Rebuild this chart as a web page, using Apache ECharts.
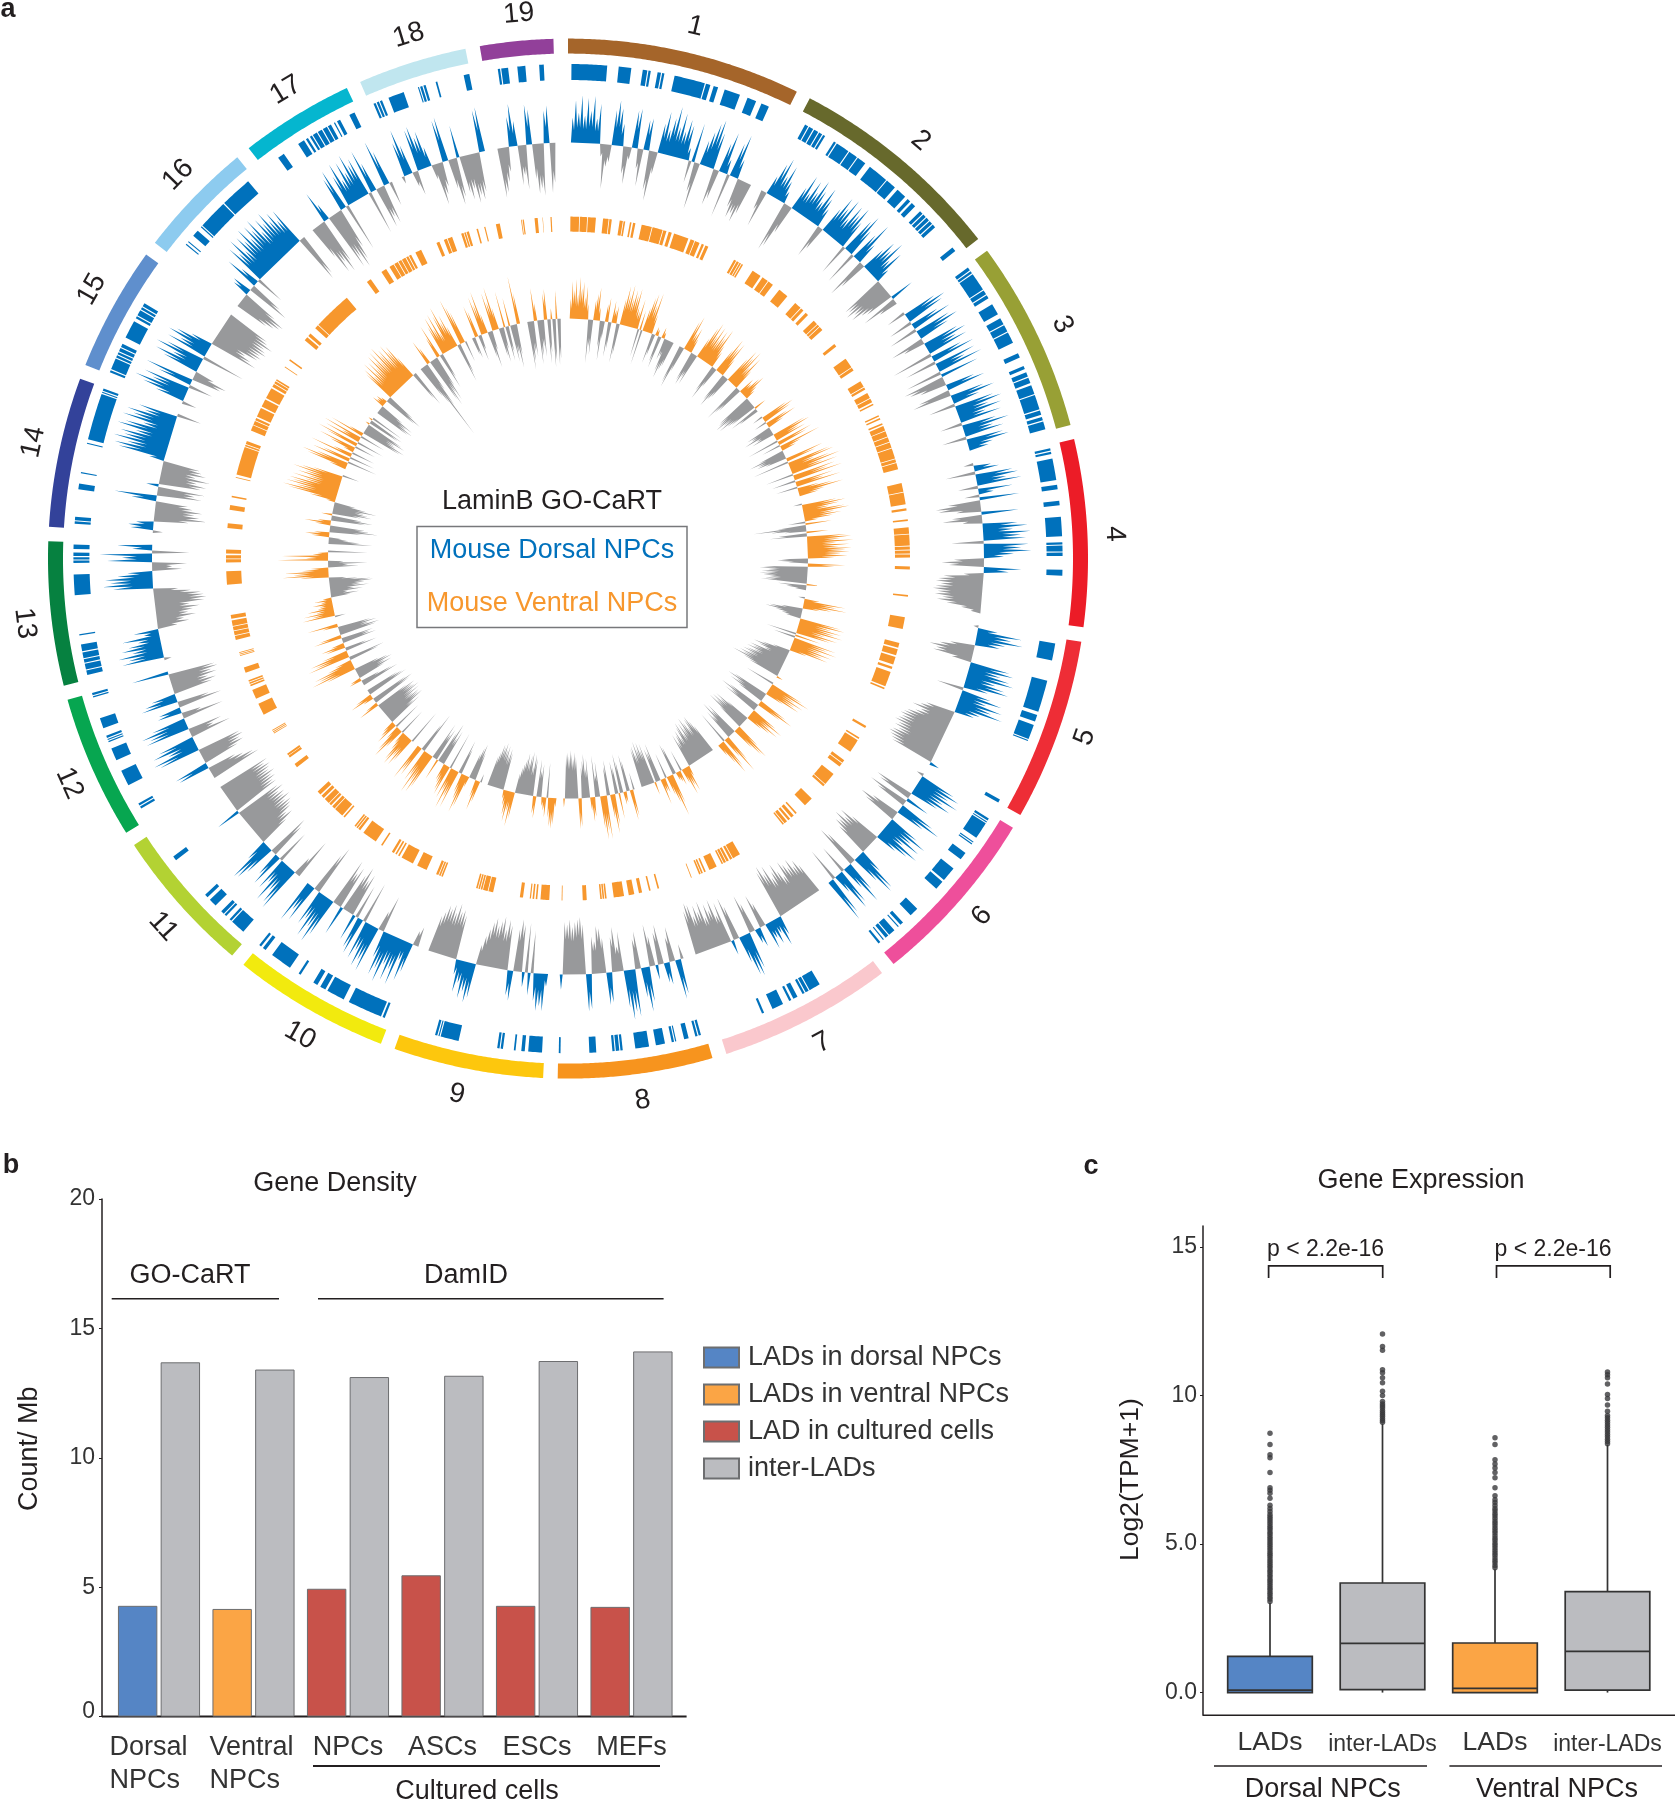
<!DOCTYPE html>
<html>
<head>
<meta charset="utf-8">
<title>LaminB GO-CaRT</title>
<script src="https://cdn.jsdelivr.net/npm/echarts@6/dist/echarts.min.js"></script>
<style>
    html, body { margin: 0; padding: 0; background: #fff; }
    #chart { width: 1675px; height: 1800px; }
</style>
</head>
<body>
<div id="chart"></div>
<script>
    // ---- panel a: mouse chromosomes, sizes in Mb
    const chromNames = ['1','2','3','4','5','6','7','8','9','10','11','12','13','14','15','16','17','18','19'];
    const chromLengths = [195,182,160,156,152,150,145,129,125,131,122,120,120,125,104,98,95,91,61];
    const chromColors = ['#a5652a','#67692c','#98a035','#ec1c27','#ee2d36','#ee4f9b','#fac8cd','#f7941e','#fdc70d','#f2ea0e','#b3d233','#07a650','#068140','#33429a','#5f8fcd','#8dcbef','#05b6cf','#c0e6ef','#92409a'];

    // LAD blocks per chromosome, start/end in Mb
    const dorsalBlocks = [
        [[3,34],[44,55],[65,69],[70,72],[78,81],[82,84],[93,120],[121,125],[128,132],[138,152],[159,167],[172,179]],
        [[7,10],[11,15],[16,20],[21,24],[25,27],[36,38],[39,51],[52,60],[61,69],[74,92],[93,102],[105,114],[117,120],[122,126],[132,135],[136,139],[140,143],[144,147],[148,151],[174,178]],
        [[2,5],[6,8],[9,25],[26,30],[31,34],[40,50],[54,60],[61,67],[68,78],[88,92],[100,103],[106,110],[111,116],[118,126],[127,140],[141,145],[147,150],[151,158]],
        [[3,5],[6,8],[12,31],[35,39],[49,53],[63,80],[85,87],[88,93],[94,97],[109,114]],
        [[5,20],[38,66],[69,75],[78,91],[92,93],[149,152]],
        [[4,6],[7,8],[9,24],[28,29],[30,31],[40,47],[57,70],[72,80],[104,112],[121,124],[126,127],[131,137],[138,141],[143,144],[147,149]],
        [[49,59],[60,63],[64,66],[71,75],[77,79],[85,95],[103,105]],
        [[4,6],[7,9],[15,19],[26,27],[28,30],[36,44],[50,62],[73,75],[76,79],[80,82],[96,102],[127,128.5]],
        [[2,14],[17,20],[25,26.5],[36,38],[39,41],[75,91],[92,93],[94,96]],
        [[5,7],[8.5,39],[44,60],[62,67],[70,74],[87,89],[98,117],[124,127],[129,131]],
        [[6,19],[20,22],[26,28],[29,32],[39,46],[49,52],[91,95]],
        [[11,13],[14,16],[34,48],[58,69],[75,76],[77,78],[79,81],[88,97],[116,117],[118,120]],
        [[4,8],[9,14],[15,18],[19,24],[25,31],[39,40],[74,92],[102,104],[105,107],[108,111],[114,118]],
        [[4,6],[7,10],[34,39],[48,49],[74,75],[78,119],[120,121],[122,124]],
        [[2,4],[5,15],[16,18],[19,21],[22,25],[26,29],[35,51],[54,56],[57,62],[63,65],[66,69]],
        [[15,16],[18,19],[25,31],[35,36],[37,63],[64,92]],
        [[15,21],[36,42],[44,46],[48,50],[51,55],[56,60],[61,65],[66,69],[72,73],[75,78],[87,92]],
        [[3,5],[6,8],[9,11],[17,31],[44,45],[46,48],[49,51],[60,61.5],[85,90]],
        [[12,14],[15,21],[29,36],[48,52]]
    ];
    const ventralBlocks = [
        [[3,14],[15,24],[25,35],[44,51],[52,55],[65,69],[70,72],[78,80],[82,85],[93,106],[107,120],[121,125],[128,132],[135,154],[157,162],[163,169],[172,175],[177,181]],
        [[10,13],[14,17],[18,20],[21,23],[37,49],[52,60],[61,68],[78,91],[104,113],[114,118],[122,126],[136,142],[143,146],[147,152],[175,179]],
        [[4,17],[18,22],[38,46],[47,50],[55,62],[63,68],[70,72],[86,88],[90,92],[97,99],[101,107],[108,115],[116,122],[123,130],[131,144],[145,149],[150,158]],
        [[4,15],[16,31],[36,39],[50,52],[60,68],[69,83],[84,88],[89,93],[94,98],[109,113],[145,147]],
        [[5,20],[38,44],[46,54],[56,66],[69,72],[76,95],[97,99],[150,153]],
        [[3,5],[7,24],[37,41],[42,47],[59,75],[76,79],[100,112],[126,128],[131,135],[137,140],[142,146],[147,149]],
        [[52,62],[63,66],[68,71],[72,75],[76,78],[85,95],[100,102],[104,106],[107,109],[119,120]],
        [[5,7],[16,18],[27,31],[37,44],[50,63],[72,74],[75,77],[78,80],[97,102],[127.5,128.5]],
        [[3,14],[18,20],[22,24],[26,27.5],[36,40],[74,80],[81,87],[88,90],[91,93],[94,96]],
        [[3,5],[6,8],[9,12],[25,38],[44,60],[63,65],[67,69],[71,74],[88,90],[98,117],[122,125],[126,128],[129,131]],
        [[4,6],[8,20],[21,25],[27,30],[31,38],[40,44],[46,51],[91,96],[106,109],[109.5,112]],
        [[8,9],[10,11],[12,13],[35,50],[57,69],[74,76],[77,79],[80,82],[92,99],[114,115],[116,117],[118,119]],
        [[3,8],[9,14],[15,20],[21,28],[30,35],[73,90],[101,105],[106,110],[112,117]],
        [[12,18],[35,41],[51,53],[76,77],[80,116],[117,119],[120,124]],
        [[1,8],[9,14],[15,18],[20,32],[34,44],[46,60],[62,66],[67,70],[71,73],[91,92],[101,103]],
        [[17,22],[24,28],[37,42],[43,92]],
        [[14,20],[36,43],[48,54],[55,60],[61,65],[66,71],[72,75],[76,79],[85,93]],
        [[7,11],[17,21],[22,28],[40,43],[44,46],[47,50],[60,62],[70,71.5],[85,90]],
        [[14,15],[16,17.5],[31,35],[41,41.5],[51,52.5]]
    ];

    // LaminB signal per chromosome, one value per 3 Mb bin; positive = LAD, negative = inter-LAD
    const binMb = 3;
    const dorsalSignal = [
        [0,10,17,12,19,11,18,13,19,10,16,-5,-18,-9,-7,14,18,15,9,-11,-15,-5,15,16,-8,-15,12,13,-16,-20,-9,12,17,10,15,20,12,18,11,16,14,5,-9,16,-12,-19,10,14,18,20,15,-15,-12,12,17,6,-18,14,18,8,-12,-16,-14,-17,-13],
        [-8,-15,8,14,17,10,15,9,5,-21,-19,-12,10,16,9,15,11,17,13,9,16,12,8,-14,-10,11,17,13,18,10,17,14,18,12,-13,15,18,12,-14,12,18,9,-17,-12,10,15,12,17,9,14,6,-18,-17,-19,-16,-18,-14,-12,10,-15,-8],
        [-8,14,18,16,-10,12,17,-12,15,18,13,-14,-9,15,18,13,17,-17,13,18,-13,17,12,19,-15,16,-17,-15,-11,12,16,-13,-16,14,18,11,-11,16,19,13,18,11,17,-9,14,19,12,16,-10,15,17,10,8],
        [-4,7,10,-12,15,17,12,18,-8,14,6,-6,16,-13,-18,-17,-10,15,-12,-16,-8,14,18,12,19,15,17,-13,18,15,19,12,8,-12,-17,-14,15,10,-8,-16,-18,-19,-17,-19,-20,-18,-19,-16,-18,-14,-8,-4],
        [-2,8,18,14,19,12,10,-10,-14,-18,-15,-16,-8,16,18,13,17,19,12,16,18,10,-11,12,17,11,18,14,19,10,8,-12,-14,-17,-13,-15,-18,-19,-20,-19,-20,-21,-19,-20,-18,-20,-21,-20,-19,-18,4],
        [-3,15,18,14,19,13,17,12,-16,-14,10,-17,-13,15,19,12,-12,-17,-14,13,18,12,17,10,18,14,9,-13,-18,-15,-19,-16,-17,-14,10,18,19,12,-15,-18,13,18,10,-12,15,17,8,-14,16,19],
        [-13,-16,-14,-18,-15,-17,-19,-13,-16,-20,-17,-15,-21,-18,-22,-20,8,12,6,10,7,11,-10,-14,8,6,-12,-16,15,18,17,11,-14,-18,6,-17,-12,-19,-15,-18,-13,-20,-16,-19,-15,-20,-21,-18],
        [-6,14,16,-14,-10,9,8,-16,-13,6,-12,-17,14,18,12,-15,-12,19,17,20,15,-16,-10,-18,-14,12,13,-14,-18,-19,-13,-15,14,15,-20,-23,-22,-21,-19,-22,-20,-21,6],
        [5,15,13,15,11,-17,9,-20,6,-19,-21,-17,12,10,-18,-20,-16,-21,-19,-17,-20,-18,-15,-12,-8,14,16,12,15,9,13,6,-18,-20,-19,-22,-18,-21,-19,-20,-17,-15],
        [-8,-6,12,16,8,19,13,18,12,20,15,18,11,-15,-8,19,15,18,12,16,-17,15,13,-14,11,-18,-15,-20,-16,12,-18,-15,-20,16,20,14,19,12,15,-21,-17,16,12,18],
        [-17,-8,19,17,12,18,10,14,-14,14,10,-15,-18,13,17,18,9,-13,-17,-15,-18,-19,-20,-18,-21,-19,-20,-18,-21,-19,10,-20,-19,-21,-20,-22,-20,-21,-22,-20,-22],
        [-21,-19,-15,-12,13,14,-15,-18,-17,-19,-18,17,19,12,18,15,-17,-10,-14,18,16,19,14,-17,-8,10,9,-18,-13,15,13,10,-16,-18,-15,-19,-17,-20,-19,15],
        [-3,17,14,18,12,16,13,9,15,6,10,-8,-13,-11,-16,-13,-15,-18,-14,-20,-21,-20,-19,-15,-10,16,20,17,19,14,10,-12,-8,-14,18,12,21,-15,8,14],
        [-4,9,10,7,-14,-21,-18,-16,-19,-15,-13,10,17,-18,-15,-19,5,-17,-19,-15,-20,-14,-18,-16,-15,6,19,21,16,22,18,20,14,22,19,12,21,17,20,13,16,-10],
        [-6,12,18,22,15,19,-10,14,20,-12,-14,-8,15,19,12,20,16,-18,17,12,18,15,9,-20,-17,-14,-19,-20,-19,-21,-20,-19,-22,-19,-18],
        [-14,-17,-19,-20,-15,7,8,-18,-14,14,8,-12,17,13,19,12,18,15,20,14,19,16,20,13,18,15,19,14,17,12,16,-20,-18],
        [-14,-22,-18,-23,-19,13,7,-24,-20,-25,-22,-17,14,17,-20,13,18,10,17,12,19,14,16,-18,18,12,-17,-13,-16,19,14,-10],
        [-3,14,19,12,-6,-10,17,18,13,15,8,-6,-17,-13,-10,17,18,-12,-19,-16,13,-15,-18,-14,-20,-17,-19,-16,17,18],
        [-20,-18,-14,-10,12,17,10,-16,-12,-18,16,14,-14,-20,-18,-21,13,15,-20,-16]
    ];
    const ventralSignal = [
        [0,9,17,13,18,11,19,14,17,10,15,7,-20,-12,-16,9,12,15,6,-12,-18,-8,8,11,-16,-12,10,6,8,-18,-14,12,18,14,19,13,17,15,18,10,8,14,-13,9,-16,11,16,18,13,19,9,-14,-10,4,3,-12,-15,5,3,-10,-8,-15,-18,-14,-12],
        [-18,-20,-12,14,17,9,12,7,-14,-16,-12,-15,10,16,19,13,18,12,17,14,19,11,8,-13,-17,-10,12,18,14,17,9,-14,-17,-13,-11,13,18,15,19,11,17,10,-19,-15,-13,8,6,10,12,7,5,-17,-18,-20,-16,-19,-15,-13,6,-14,-10],
        [-5,13,16,14,-6,11,15,8,-12,-10,-14,-8,-11,16,18,12,15,-15,17,14,-9,20,10,7,-12,-17,-13,-14,-10,18,14,-17,20,22,12,19,24,15,22,-13,20,16,23,-11,18,13,21,-10,10,16,21,12,9],
        [-4,16,20,17,12,19,21,14,17,13,6,-8,12,-13,-24,-16,-10,10,-13,-17,18,20,15,21,13,19,14,20,17,19,15,18,12,-12,-14,-9,17,12,-20,-22,-18,-21,-19,-22,-20,-17,-19,-21,6,-13,-9,-5],
        [-3,7,19,15,20,13,8,-10,-15,-17,-12,-9,-7,19,21,15,20,17,21,13,19,16,-14,12,-10,20,16,21,14,19,15,18,8,-8,-13,-17,-14,-11,-18,-16,-19,-15,-18,-20,-17,-21,-19,-24,-18,-15,3],
        [-14,16,20,13,18,14,17,9,-17,-20,-15,-18,-13,14,18,12,-16,-20,-14,-17,13,17,11,16,12,8,-12,-18,-15,-19,-16,-20,-13,12,18,16,11,-17,-14,-19,-12,-15,13,19,10,-16,14,17,11,6],
        [-14,-17,-20,-19,-15,-18,-21,-16,-19,-14,-20,-18,-13,-17,-15,-12,-16,5,12,9,13,7,-10,7,5,4,-13,-15,14,20,13,9,-12,7,6,12,-18,-14,-16,6,-19,-16,-20,-17,-21,-15,-19,-18],
        [-8,12,14,-14,-17,5,6,-14,-18,12,-12,-15,14,18,11,-16,-13,20,16,20,15,-16,-10,-19,9,11,6,-18,-13,-20,-17,-14,13,14,-19,-21,-18,-20,-22,-19,-21,-20,4],
        [4,12,14,13,9,-16,9,6,4,-15,-12,-17,10,8,-17,-19,-13,-20,-18,-15,-19,-16,-14,-12,-9,12,16,9,14,11,7,4,-17,-19,-16,-20,-18,-21,-19,-20,-16,-14],
        [-4,10,14,8,-13,-17,-15,-12,5,15,18,12,9,-12,-16,18,13,19,11,15,-18,14,12,9,8,-17,-13,-20,-15,10,-16,-13,-18,17,20,15,21,13,16,-20,-14,15,13,18],
        [-17,12,15,11,16,14,9,6,-13,10,16,13,7,-14,11,8,6,-17,-14,-20,-18,-19,-16,-20,-17,-21,-19,-18,-20,-16,10,6,-19,-21,-18,5,11,8,-20,-18,-16],
        [-18,-15,-9,6,5,-13,-17,-14,-18,-16,-12,14,21,17,19,12,8,-14,-17,20,16,18,12,-15,-10,9,11,6,-16,-13,-15,13,10,-17,-19,-14,-18,-15,7,14],
        [-5,15,10,14,8,12,7,6,9,5,8,4,-9,-13,-8,-15,-11,-18,-14,-16,-20,-19,-13,-8,13,21,16,20,12,8,-14,-9,-18,-7,23,10,21,7,5,-18],
        [-20,-14,-9,-6,8,11,7,-15,-22,-18,-16,7,12,6,-16,-19,-14,5,-13,-18,-16,-14,-20,-15,-10,4,12,22,25,19,24,21,23,16,22,15,20,17,23,19,14,-8],
        [8,19,22,15,-14,18,13,-12,20,9,-11,5,12,18,-10,15,20,-13,17,9,19,-12,16,7,-19,-21,-16,-15,-20,-18,2,-15,-17,2,-16],
        [-17,-19,-15,-18,-12,6,4,5,3,-16,-19,-14,15,17,12,19,13,18,14,20,16,21,15,22,17,19,14,20,16,18,11,-14,-18],
        [-16,-20,-38,-22,-14,12,8,-21,-24,-18,-22,-15,10,16,-17,-12,14,18,12,19,9,17,21,13,16,10,-18,-14,22,18,15,-10],
        [-8,-10,15,12,-12,-7,18,14,20,9,-12,-17,-9,18,13,20,10,-13,-16,-10,17,-16,-12,13,-17,-13,-20,-14,22,14],
        [-22,-18,-14,-16,15,8,-20,-16,-12,-17,12,14,-20,-15,5,-22,-19,13,-21,-18]
    ];

    // ---- panel b: gene density (count / Mb)
    const densityCategories = ['Dorsal\nNPCs','Ventral\nNPCs','NPCs','ASCs','ESCs','MEFs'];
    const densityDorsal = [4.28,null,null,null,null,null];
    const densityVentral = [null,4.16,null,null,null,null];
    const densityCultured = [null,null,4.94,5.46,4.28,4.24];
    const densityInter = [13.69,13.41,13.12,13.17,13.74,14.11];

    // ---- panel c: gene expression, log2(TPM+1)
    const exprCategories = ['LADs','inter-LADs','LADs','inter-LADs'];
    // whisker low, q1, median, q3, whisker high
    const exprBoxes = [
        [0,0,0.085,1.22,3.02],
        [0,0.1,1.66,3.69,9.05],
        [0,0,0.14,1.67,4.15],
        [0,0.085,1.39,3.40,8.34]
    ];
    const exprColors = ['#5585c5','#bbbcc0','#fba545','#bbbcc0'];
    const exprOutliers = [
        [8.73,8.35,8.01,7.91,7.41,6.90,6.81,6.71,6.54,6.31,6.2,6.1,6.0,5.92,5.85,5.78,5.7,5.62,5.55,5.48,5.4,5.33,5.25,5.18,5.1,5.03,4.95,4.88,4.8,4.72,4.65,4.58,4.5,4.42,4.35,4.27,4.2,4.12,4.05,3.97,3.9,3.82,3.75,3.67,3.6,3.52,3.45,3.37,3.3,3.22,3.15,3.07],
        [12.07,11.65,11.53,10.87,10.77,10.6,10.43,10.15,10.0,9.8,9.72,9.65,9.58,9.5,9.43,9.36,9.3,9.23,9.16,9.1],
        [8.58,8.35,7.84,7.7,7.56,7.41,7.23,6.9,6.63,6.49,6.4,6.3,6.2,6.12,6.03,5.95,5.87,5.78,5.7,5.62,5.53,5.45,5.37,5.28,5.2,5.12,5.03,4.95,4.87,4.78,4.7,4.62,4.53,4.45,4.37,4.28,4.2],
        [10.79,10.7,10.6,10.39,10.04,9.9,9.68,9.47,9.33,9.25,9.17,9.09,9.01,8.93,8.85,8.77,8.69,8.61,8.53,8.45,8.38]
    ];

    // ---- polar layout of panel a
    const genomeGap = 12;
    const chromOffsets = [];
    let genomeEnd = 0;
    chromLengths.forEach(len => {
        chromOffsets.push(genomeEnd);
        genomeEnd += len + genomeGap;
    });
    const ringTrack = [505, 520];
    const dorsalBlockTrack = [478.6, 494.6];
    const ventralBlockTrack = [327, 342];
    const dorsalBase = 416, dorsalScale = 2.5;
    const ventralBase = 240, ventralScale = 2.2;
    const labelRadius = 547;
    const labelNudge = [3,2,2,2,-2.5,-3,-2,-2.5,4.5,-4,-5,-3.5,-5,3,5,4.5,3.5,4,4];
    const BLUE = '#0071bc', ORANGE = '#f7972d', GREY = '#98999b', INK = '#231f20';

    function renderBand (params, api) {
        const a0 = api.value(0), a1 = api.value(1), r0 = api.value(2), r1 = api.value(3);
        const n = Math.max(1, Math.ceil((a1 - a0) / 2));
        const points = [];
        for (let i = 0; i <= n; i++) points.push(api.coord([r1, a0 + (a1 - a0) * i / n]));
        for (let i = n; i >= 0; i--) points.push(api.coord([r0, a0 + (a1 - a0) * i / n]));
        return {
            type: 'polygon',
            shape: { points: points },
            style: { fill: api.visual('color') }
        };
    }

    function bandSeries (blocks, track, color) {
        const rows = [];
        blocks.forEach((list, c) => list.forEach(b => {
            rows.push([chromOffsets[c] + b[0], chromOffsets[c] + b[1], track[0], track[1]]);
        }));
        return {
            type: 'custom', coordinateSystem: 'polar', silent: true,
            encode: { angle: 0, radius: 3 },
            itemStyle: { color: color },
            renderItem: renderBand,
            data: rows
        };
    }

    // each bin is one needle; a run of same-sign bins becomes one polygon, so nothing is drawn on the baseline
    function signalSeries (signal, base, scale, sign, color, shoulder) {
        return {
            type: 'custom', coordinateSystem: 'polar', silent: true,
            encode: { angle: 1, radius: 2 },
            renderItem (params, api) {
                const c = api.value(0);
                const values = signal[c];
                const at = (h, mb) => api.coord([base + h * scale, chromOffsets[c] + mb]);
                const children = [];
                let i = 0;
                while (i < values.length) {
                    if (values[i] * sign <= 0) { i++; continue; }
                    const first = i;
                    const points = [at(0, first * binMb)];
                    while (i < values.length && values[i] * sign > 0) {
                        points.push(at(values[i], (i + 0.5) * binMb));
                        if (i + 1 < values.length && values[i + 1] * sign > 0) {
                            const low = Math.min(Math.abs(values[i]), Math.abs(values[i + 1]));
                            points.push(at(sign * low * shoulder, (i + 1) * binMb));
                        }
                        i++;
                    }
                    points.push(at(0, i * binMb));
                    children.push({ type: 'polygon', shape: { points: points }, style: { fill: color } });
                }
                return { type: 'group', children: children };
            },
            data: signal.map((v, c) => [c, chromOffsets[c], base])
        };
    }

    const ringSeries = {
        type: 'custom', coordinateSystem: 'polar', silent: true,
        encode: { angle: 0, radius: 3 },
        renderItem: renderBand,
        data: chromLengths.map((len, c) => ({
            value: [chromOffsets[c], chromOffsets[c] + len, ringTrack[0], ringTrack[1]],
            itemStyle: { color: chromColors[c] }
        }))
    };

    const labelSeries = {
        type: 'custom', coordinateSystem: 'polar', silent: true,
        encode: { angle: 0, radius: 1 },
        renderItem (params, api) {
            const p = api.coord([api.value(1), api.value(0)]);
            const deg = api.value(0) / genomeEnd * 360;
            const turn = deg <= 100 ? deg : deg < 270 ? deg - 180 : deg - 360;
            return {
                type: 'text', x: p[0], y: p[1], rotation: -turn * Math.PI / 180,
                style: {
                    text: chromNames[params.dataIndex], fill: INK,
                    font: '28px "Liberation Sans"', align: 'center', verticalAlign: 'middle'
                }
            };
        },
        data: chromLengths.map((len, c) => [chromOffsets[c] + len / 2 + labelNudge[c], labelRadius])
    };

    // ---- panel c box marks
    const boxSeries = {
        type: 'custom', xAxisIndex: 1, yAxisIndex: 1, silent: true, z: 3,
        encode: { x: 0, y: [1, 2, 3, 4, 5] },
        renderItem (params, api) {
            const x = api.value(0);
            const half = api.size([1, 0])[0] * 0.376;
            const xc = api.coord([x, 0])[0];
            const y = i => api.coord([x, api.value(i)])[1];
            const stroke = { stroke: '#333', lineWidth: 1.7, fill: 'none' };
            return {
                type: 'group',
                children: [
                    { type: 'line', shape: { x1: xc, y1: y(5), x2: xc, y2: y(4) }, style: stroke },
                    { type: 'line', shape: { x1: xc, y1: y(2), x2: xc, y2: y(1) }, style: stroke },
                    {
                        type: 'rect',
                        shape: { x: xc - half, y: y(4), width: half * 2, height: y(2) - y(4) },
                        style: { fill: exprColors[params.dataIndex], stroke: '#333', lineWidth: 1.7 }
                    },
                    { type: 'line', shape: { x1: xc - half, y1: y(3), x2: xc + half, y2: y(3) }, style: stroke }
                ]
            };
        },
        data: exprBoxes.map((b, i) => [i].concat(b))
    };

    const outlierSeries = {
        type: 'scatter', xAxisIndex: 1, yAxisIndex: 1, silent: true, z: 2,
        symbolSize: 5.5,
        itemStyle: { color: '#3a3a3c' },
        data: exprOutliers.flatMap((list, i) => list.map(v => [i, v]))
    };

    const barCommon = {
        type: 'bar', xAxisIndex: 0, yAxisIndex: 0, silent: true,
        barWidth: 39.4, barGap: '8.4%'
    };
    const barBorder = { borderColor: '#6d6e70', borderWidth: 1 };

    // ---- loose text and rules
    function txt (text, x, y, size, extra) {
        return Object.assign({
            type: 'text', x: x, y: y, silent: true,
            style: {
                text: text, fill: INK, font: size + 'px "Liberation Sans"',
                align: 'center', verticalAlign: 'middle'
            }
        }, extra || {});
    }
    function rule (x1, y1, x2, y2, w) {
        return {
            type: 'line', silent: true,
            shape: { x1: x1, y1: y1, x2: x2, y2: y2 },
            style: { stroke: '#231f20', lineWidth: w || 1.5 }
        };
    }
    function coloured (el, color) { el.style.fill = color; return el; }
    function bold (el) { el.style.font = 'bold 27px "Liberation Sans"'; return el; }

    const graphicItems = [
        bold(txt('a', 8, 10, 27)), bold(txt('b', 11, 1166, 27)), bold(txt('c', 1091, 1167, 27)),
        // centre key of panel a
        txt('LaminB GO-CaRT', 552, 502, 27),
        {
            type: 'rect', silent: true,
            shape: { x: 417, y: 526.5, width: 270, height: 101 },
            style: { fill: 'none', stroke: '#77787b', lineWidth: 1.5 }
        },
        coloured(txt('Mouse Dorsal NPCs', 552, 550.5, 27), BLUE),
        coloured(txt('Mouse Ventral NPCs', 552, 603.5, 27), ORANGE),
        // panel b
        txt('Gene Density', 335, 1184, 27),
        txt('GO-CaRT', 190, 1276, 27), rule(111.7, 1298.7, 279, 1298.7),
        txt('DamID', 466, 1276, 27), rule(318, 1298.7, 663.6, 1298.7),
        rule(102, 1716.6, 686.6, 1716.6, 2),
        rule(313, 1766, 660, 1766, 2),
        txt('Cultured cells', 477, 1792, 27),
        // panel c
        txt('Gene Expression', 1421, 1180.5, 27),
        txt('p < 2.2e-16', 1325.5, 1250, 23), txt('p < 2.2e-16', 1553, 1250, 23),
        {
            type: 'polyline', silent: true,
            shape: { points: [[1268.6, 1278], [1268.6, 1265.8], [1382.7, 1265.8], [1382.7, 1278]] },
            style: { fill: 'none', stroke: '#231f20', lineWidth: 1.7 }
        },
        {
            type: 'polyline', silent: true,
            shape: { points: [[1496.5, 1278], [1496.5, 1265.8], [1610.2, 1265.8], [1610.2, 1278]] },
            style: { fill: 'none', stroke: '#231f20', lineWidth: 1.7 }
        },
        rule(1203, 1715.3, 1675, 1715.3, 1.5),
        rule(1214, 1766, 1427, 1766, 1.5), rule(1449.4, 1766, 1662, 1766, 1.5),
        txt('Dorsal NPCs', 1322.7, 1790, 27), txt('Ventral NPCs', 1557, 1790, 27)
    ];

    const densityLabelPad = [21, 4, 0, 0, 0, 0];

    const chart = echarts.init(document.getElementById('chart'));
    chart.setOption({
        animation: false,
        textStyle: { fontFamily: '"Liberation Sans", Arial, sans-serif', color: INK },
        polar: { center: [568, 558.6], radius: 520 },
        angleAxis: { type: 'value', min: 0, max: genomeEnd, startAngle: 90, clockwise: true, show: false },
        radiusAxis: { type: 'value', min: 0, max: 520, show: false },
        grid: [
            { left: 111.75, top: 1199, width: 567, height: 517.6 },
            { left: 1213.75, top: 1226, width: 450, height: 489.3 }
        ],
        xAxis: [
            {
                type: 'category', gridIndex: 0,
                data: densityCategories.map((name, i) => ({
                    value: name,
                    textStyle: { padding: [0, densityLabelPad[i], 0, 0] }
                })),
                axisLine: { show: false },
                axisTick: { alignWithLabel: true, length: 4, lineStyle: { color: '#231f20' } },
                axisLabel: {
                    interval: 0, margin: 15, fontSize: 27, lineHeight: 32.5, color: '#333',
                    verticalAlign: 'top',
                    formatter: v => v.split('\n').map(s => '{l|' + s + '}').join('\n'),
                    rich: { l: { align: 'left', fontSize: 27, lineHeight: 32.5, color: '#333' } }
                }
            },
            {
                type: 'category', gridIndex: 1, data: exprCategories,
                axisLine: { show: false },
                axisTick: { alignWithLabel: true, length: 4, lineStyle: { color: '#231f20' } },
                axisLabel: {
                    interval: 0, margin: 14, color: '#333',
                    formatter: v => (v === 'LADs' ? '{a|' + v + '}' : '{b|' + v + '}'),
                    rich: {
                        a: { fontSize: 26.5, color: '#333' },
                        b: { fontSize: 23, color: '#333', padding: [4, 0, 0, 0] }
                    }
                }
            }
        ],
        yAxis: [
            {
                type: 'value', gridIndex: 0, min: 0, max: 20, interval: 5, offset: 9.75,
                name: 'Count/ Mb', nameLocation: 'middle', nameGap: 59,
                nameTextStyle: { fontSize: 27, color: INK, padding: [0, 0, 0, 18] },
                splitLine: { show: false },
                axisLine: { show: true, lineStyle: { color: '#231f20', width: 1.5 } },
                axisTick: { show: true, length: 3, lineStyle: { color: '#231f20' } },
                axisLabel: {
                    fontSize: 23, margin: 7, color: '#333',
                    formatter: v => (v === 0 ? '{z|0}' : String(v)),
                    rich: { z: { fontSize: 23, color: '#333', padding: [0, 0, 10, 0] } }
                }
            },
            {
                type: 'value', gridIndex: 1, min: -0.765, max: 15.71, offset: 10.75,
                name: 'Log2(TPM+1)', nameLocation: 'middle', nameGap: 59,
                nameTextStyle: { fontSize: 26.5, color: INK, padding: [0, 18, 0, 0] },
                splitLine: { show: false },
                axisLine: { show: true, onZero: false, lineStyle: { color: '#231f20', width: 1.5 } },
                axisTick: { show: true, length: 3, customValues: [0, 5, 10, 15], lineStyle: { color: '#231f20' } },
                axisLabel: {
                    fontSize: 23, margin: 6, color: '#333', customValues: [0, 5, 10, 15],
                    formatter: v => (v < 10 ? v.toFixed(1) : String(v))
                }
            }
        ],
        legend: {
            orient: 'vertical', left: 703, top: 1344, padding: 0,
            itemWidth: 35, itemHeight: 20, itemGap: 10, selectedMode: false,
            icon: 'rect',
            textStyle: { fontSize: 27, color: '#333', padding: [0, 0, 0, 4] },
            data: ['LADs in dorsal NPCs', 'LADs in ventral NPCs', 'LAD in cultured cells', 'inter-LADs']
        },
        graphic: { elements: graphicItems },
        series: [
            ringSeries,
            bandSeries(dorsalBlocks, dorsalBlockTrack, BLUE),
            signalSeries(dorsalSignal, dorsalBase, dorsalScale, -1, GREY, 0.7),
            signalSeries(dorsalSignal, dorsalBase, dorsalScale, 1, BLUE, 0.5),
            bandSeries(ventralBlocks, ventralBlockTrack, ORANGE),
            signalSeries(ventralSignal, ventralBase, ventralScale, -1, GREY, 0.7),
            signalSeries(ventralSignal, ventralBase, ventralScale, 1, ORANGE, 0.5),
            labelSeries,
            Object.assign({}, barCommon, {
                name: 'LADs in dorsal NPCs', stack: 'lad', data: densityDorsal,
                itemStyle: Object.assign({ color: '#5585c5' }, barBorder)
            }),
            Object.assign({}, barCommon, {
                name: 'LADs in ventral NPCs', stack: 'lad', data: densityVentral,
                itemStyle: Object.assign({ color: '#fba545' }, barBorder)
            }),
            Object.assign({}, barCommon, {
                name: 'LAD in cultured cells', stack: 'lad', data: densityCultured,
                itemStyle: Object.assign({ color: '#c8524a' }, barBorder)
            }),
            Object.assign({}, barCommon, {
                name: 'inter-LADs', stack: 'inter', data: densityInter,
                itemStyle: Object.assign({ color: '#bbbcc0' }, barBorder)
            }),
            outlierSeries,
            boxSeries
        ]
    });
</script>
</body>
</html>
